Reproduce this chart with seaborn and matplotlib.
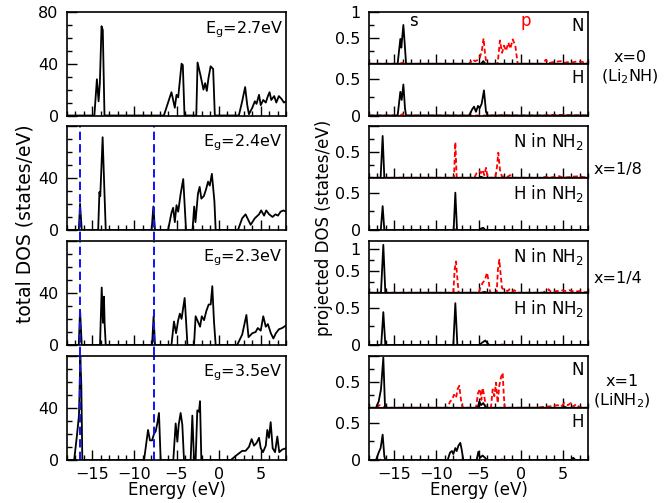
import matplotlib
matplotlib.use('Agg')
import matplotlib.pyplot as plt
from matplotlib.ticker import MultipleLocator
import seaborn as sns

# ---- total DOS (left column), energies in eV, DOS in states/eV ----
tot0_e = [-18.0, -14.75, -14.45, -14.25, -14.1, -13.9, -13.75, -13.55, -6.5, -5.6, -5.2, -5.0, -4.8, -4.4,
          -4.25, -4.05, -2.65, -2.5, -2.15, -1.8, -1.6, -1.4, -1.2, -0.95, -0.65, -0.45, 2.4, 2.8, 3.15, 3.4,
          3.6, 4.0, 4.3, 4.5, 4.8, 5.0, 5.3, 5.6, 5.85, 6.05, 6.25, 6.6, 6.85, 7.15, 7.45, 7.75, 8.0]
tot0_d = [0, 0, 28, 11, 25, 69, 66, 0, 0, 18, 6, 16, 14, 40,
          39, 0, 0, 41, 31, 20, 25, 19, 29, 38, 36, 0, 0, 11, 22, 8,
          1, 6, 11, 9, 16, 8, 12, 10, 15, 18, 12, 15, 10, 15, 13, 10, 11]

tot1_e = [-18.0, -16.6, -16.45, -16.25, -14.3, -14.15, -14.05, -13.77, -13.57, -13.4, -7.95, -7.75, -7.55,
          -6.0, -5.6, -5.4, -5.2, -5.0, -4.8, -4.5, -4.2, -3.87, -3.1, -2.9, -2.75, -2.45, -2.25, -2.05,
          -1.75, -1.5, -1.25, -1.05, -0.8, -0.5, -0.35, 2.3, 2.8, 3.2, 3.5, 3.8, 4.3, 4.8, 5.05, 5.4, 5.65,
          6.0, 6.4, 6.75, 7.05, 7.35, 7.7, 8.0]
tot1_d = [0, 0, 20, 0, 0, 29, 26, 71, 32, 0, 0, 18, 0,
          0, 13, 17, 6, 19, 14, 28, 39, 0, 0, 18, 6, 28, 33, 24,
          26, 31, 37, 34, 43, 22, 0, 0, 9, 12, 8, 4, 9, 12, 15, 11, 15,
          12, 10, 12, 11, 14, 15, 14]

tot2_e = [-18.0, -16.6, -16.45, -16.25, -14.08, -13.88, -13.73, -13.61, -13.53, -13.4, -7.9, -7.72, -7.55,
          -5.6, -5.3, -5.05, -4.8, -4.6, -4.4, -4.03, -3.87, -3.7, -2.92, -2.73, -2.53, -2.2, -2.0, -1.73,
          -1.46, -1.18, -0.94, -0.75, -0.55, -0.35, 2.2, 2.8, 3.3, 3.55, 4.0, 4.4, 4.65, 5.0, 5.3, 5.6,
          5.85, 6.2, 6.5, 6.8, 7.15, 7.55, 8.0]
tot2_d = [0, 0, 27, 0, 0, 44, 17, 37, 16, 0, 0, 22, 0,
          0, 18, 9, 19, 24, 20, 36, 19, 0, 0, 22, 19, 14, 22, 19,
          26, 31, 31, 45, 18, 0, 0, 8, 23, 6, 9, 10, 13, 11, 22, 14,
          16, 9, 5, 9, 12, 13, 15]

tot3_e = [-18.0, -17.15, -16.85, -16.58, -16.42, -16.3, -16.18, -8.85, -8.38, -8.15, -7.9, -7.67, -7.47,
          -7.28, -7.08, -6.88, -5.38, -5.1, -4.9, -4.74, -4.51, -4.31, -4.11, -3.32, -3.12, -2.92, -2.73,
          -2.53, -2.33, -2.21, -2.05, 1.45, 2.0, 2.4, 2.8, 3.2, 3.6, 3.92, 4.2, 4.5, 4.8, 5.0, 5.27, 5.6,
          5.78, 5.98, 6.18, 6.42, 6.7, 6.97, 7.2, 7.55, 8.0]
tot3_d = [0, 0, 17, 34, 79, 57, 0, 0, 23, 15, 15, 20, 22,
          28, 36, 0, 0, 28, 14, 27, 36, 27, 0, 0, 34, 0, 0,
          38, 37, 45, 0, 0, 3, 5, 7, 7, 10, 16, 11, 13, 17, 9, 6, 11,
          23, 17, 29, 9, 6, 18, 6, 8, 9]

gaps = ['2.7', '2.4', '2.3', '3.5']
vline_e = [-16.42, -7.72]

# ---- projected DOS (right column): N and H, s (black) and p (red) ----
p0N_s_e = [-18.0, -14.6, -14.28, -14.16, -13.92, -13.77, -13.6, -4.7, -4.43, -4.19, 8.0]
p0N_s_d = [0, 0, 0.48, 0.31, 0.75, 0.41, 0, 0, 0.05, 0, 0]
p0N_p_e = [-18.0, -14.4, -14.0, -13.7, -6.1, -5.7, -5.4, -4.9, -4.6, -4.4, -4.2, -4.03, -2.73, -2.45, -2.2,
           -1.97, -1.73, -1.46, -1.22, -0.94, -0.63, -0.35, 2.6, 3.0, 3.3, 3.8, 4.8, 5.2, 5.6, 6.0, 6.8,
           7.5, 8.0]
p0N_p_d = [0, 0, 0.02, 0, 0, 0.08, 0.05, 0.09, 0.25, 0.49, 0.15, 0, 0, 0.45, 0.21,
           0.35, 0.25, 0.41, 0.29, 0.47, 0.35, 0, 0, 0.08, 0.01, 0.03, 0.05, 0.02, 0.03, 0.02, 0.05,
           0.03, 0.03]
p0H_s_e = [-18.0, -14.6, -14.28, -14.12, -13.92, -13.73, -13.6, -6.1, -5.77, -5.53, -5.3, -5.06, -4.86,
           -4.62, -4.35, -4.11, -3.9, 8.0]
p0H_s_d = [0, 0, 0.32, 0.21, 0.42, 0.1, 0, 0, 0.08, 0.12, 0.05, 0.13, 0.1,
           0.16, 0.34, 0.05, 0, 0]
p0H_p_e = [-18.0, -14.3, -14.0, -13.7, -2.5, -2.0, -1.5, 3.0, 3.4, 8.0]
p0H_p_d = [0, 0, 0.02, 0, 0, 0.01, 0, 0, 0.01, 0]

p1N_s_e = [-18.0, -16.62, -16.38, -16.18, -4.9, -4.7, -4.4, 8.0]
p1N_s_d = [0, 0, 0.8, 0, 0, 0.02, 0, 0]
p1N_p_e = [-18.0, -16.6, -16.4, -16.2, -7.91, -7.75, -7.59, -5.5, -5.22, -4.9, -4.7, -4.51, -4.31, -4.11,
           -3.91, -3.0, -2.8, -2.65, -2.45, -2.21, -1.9, -1.5, -1.26, -0.94, 2.6, 3.0, 3.4, 4.6, 5.0,
           6.2, 6.97, 7.5, 8.0]
p1N_p_d = [0, 0, 0.03, 0, 0, 0.68, 0, 0, 0.09, 0.13, 0.09, 0.15, 0.05, 0.19,
           0, 0, 0.22, 0.48, 0.15, 0.02, 0.03, 0.02, 0.05, 0, 0, 0.02, 0, 0.03, 0,
           0.02, 0.03, 0.01, 0.02]
p1H_s_e = [-18.0, -16.6, -16.38, -16.18, -7.95, -7.75, -7.55, -4.9, -4.7, -4.43, -4.2, 8.0]
p1H_s_d = [0, 0, 0.32, 0, 0, 0.5, 0, 0, 0.02, 0.03, 0, 0]
p1H_p_e = [-18.0, -16.6, -16.38, -16.18, -7.95, -7.75, -7.55, 8.0]
p1H_p_d = [0, 0, 0.01, 0, 0, 0.01, 0, 0]

p2N_s_e = [-18.0, -16.58, -16.3, -16.06, -4.7, -4.3, -3.9, 8.0]
p2N_s_d = [0, 0, 1.1, 0, 0, 0.02, 0, 0]
p2N_p_e = [-18.0, -7.99, -7.83, -7.67, -7.55, -7.36, -4.98, -4.78, -4.51, -4.27, -3.99, -3.79, -3.6,
           -2.84, -2.69, -2.53, -2.37, -2.21, -1.93, -1.54, -1.34, -1.0, -0.75, -0.45, 2.6, 3.0, 3.33,
           3.6, 4.4, 4.8, 5.4, 5.8, 6.4, 7.0, 7.6, 8.0]
p2N_p_d = [0, 0, 0.54, 0.72, 0.42, 0, 0, 0.11, 0.23, 0.28, 0.46, 0.26, 0,
           0, 0.54, 0.76, 0.42, 0.11, 0.06, 0.04, 0.08, 0.02, 0.06, 0, 0, 0.04, 0.08,
           0.02, 0.04, 0.06, 0.04, 0.06, 0.02, 0.04, 0.01, 0.02]
p2H_s_e = [-18.0, -16.55, -16.3, -16.06, -7.99, -7.75, -7.51, -4.9, -4.59, -4.19, -3.91, -3.71, 8.0]
p2H_s_d = [0, 0, 0.44, 0, 0, 0.56, 0, 0, 0.03, 0.06, 0.02, 0, 0]
p2H_p_e = [-18.0, -16.5, -16.3, -16.1, -2.5, -2.0, -1.6, 8.0]
p2H_p_d = [0, 0, 0.01, 0, 0, 0.01, 0, 0]

p3N_s_e = [-18.0, -17.17, -16.85, -16.58, -16.3, -16.1, -15.98, -5.1, -4.9, -4.7, -4.43, -4.19, -4.03,
           4.8, 5.2, 5.5, 8.0]
p3N_s_d = [0, 0, 0.12, 0.35, 0.96, 0.02, 0, 0, 0.12, 0.05, 0.09, 0.02, 0,
           0, 0.02, 0, 0]
p3N_p_e = [-18.0, -17.1, -16.77, -16.4, -16.1, -8.66, -8.38, -8.15, -7.91, -7.67, -7.47, -7.28, -7.08,
           -6.88, -5.3, -5.06, -4.82, -4.66, -4.51, -4.31, -4.11, -3.52, -3.32, -3.12, -2.92, -2.73, -2.53,
           -2.33, -2.13, -2.01, -1.89, 2.0, 2.8, 3.8, 4.4, 4.8, 5.19, 5.6, 5.98, 6.26, 6.58, 6.97, 7.7, 8.0]
p3N_p_d = [0, 0, 0.05, 0.02, 0, 0, 0.12, 0.15, 0.25, 0.19, 0.36, 0.42, 0.15,
           0, 0, 0.28, 0.36, 0.15, 0.38, 0.22, 0, 0, 0.35, 0.22, 0.48, 0.09, 0.42,
           0.58, 0.67, 0.28, 0, 0, 0.02, 0.03, 0.05, 0.02, 0.09, 0.05, 0.09, 0.02, 0.07, 0.01, 0, 0]
p3H_s_e = [-18.0, -17.17, -16.85, -16.62, -16.38, -16.18, -16.06, -8.66, -8.38, -8.15, -7.99, -7.75, -7.59,
           -7.39, -7.16, -7.0, -6.8, -5.22, -5.02, -4.82, -4.51, -4.23, -3.99, 6.0, 6.26, 6.5, 8.0]
p3H_s_d = [0, 0, 0.1, 0.16, 0.34, 0.05, 0, 0, 0.1, 0.12, 0.08, 0.16, 0.12,
           0.19, 0.23, 0.14, 0, 0, 0.11, 0.03, 0.06, 0.03, 0, 0, 0.03, 0, 0]
p3H_p_e = [-18.0, -16.7, -16.4, -16.1, -2.5, -2.1, -1.7, 8.0]
p3H_p_d = [0, 0, 0.02, 0, 0, 0.01, 0, 0]

n_labels = ['N', r'N in NH$_2$', r'N in NH$_2$', 'N']
h_labels = ['H', r'H in NH$_2$', r'H in NH$_2$', 'H']
n_ymax = [1.0, 1.0, 1.2, 1.0]

sns.set_style('ticks')
plt.rcParams['font.family'] = ['DejaVu Sans']
plt.rcParams['mathtext.fontset'] = 'dejavusans'
plt.rcParams['lines.scale_dashes'] = False
plt.rcParams['text.color'] = 'black'
plt.rcParams['axes.labelcolor'] = 'black'

W, H = 669, 503
fig = plt.figure(figsize=(W / 100, H / 100), dpi=100)


def add_ax(x0, x1, y0, y1):
    # axes placed in pixel coordinates of the reference
    return fig.add_axes([x0 / W, 1 - y1 / H, (x1 - x0) / W, (y1 - y0) / H])


def style_ax(ax, show_x):
    ax.set_xlim(-18, 8)
    ax.xaxis.set_major_locator(MultipleLocator(5))
    ax.xaxis.set_minor_locator(MultipleLocator(1))
    ax.tick_params(which='both', direction='in', top=False, right=False, width=1.0,
                   colors='black', labelsize=11.5)
    ax.tick_params(which='major', length=7)
    ax.tick_params(which='minor', length=3.3)
    ax.tick_params(axis='x', pad=5, labelbottom=show_x)
    ax.tick_params(axis='y', pad=6)
    for s in ax.spines.values():
        s.set_linewidth(1.2)
        s.set_color('black')
    ax.set_xlabel('')
    ax.set_ylabel('')


tops = [12, 125.5, 240.5, 355.5]
bots = [115.5, 230, 345, 460]

tot_e = [tot0_e, tot1_e, tot2_e, tot3_e]
tot_d = [tot0_d, tot1_d, tot2_d, tot3_d]

for i in range(4):
    ax = add_ax(67, 286, tops[i], bots[i])
    sns.lineplot(x=tot_e[i], y=tot_d[i], ax=ax, color='black', lw=1.3, estimator=None, sort=False)
    style_ax(ax, i == 3)
    ax.set_ylim(0, 80)
    ax.set_yticks([0, 40, 80], ['0', '40', '80' if i == 0 else ''])
    ax.yaxis.set_minor_locator(MultipleLocator(10))
    ax.text(0.985, 0.93, r'E$_{\rm g}$=' + gaps[i] + 'eV', transform=ax.transAxes,
            ha='right', va='top', fontsize=11.5)
    if i > 0:
        for e in vline_e:
            ax.axvline(e, ymin=-0.1 if i < 3 else 0, ymax=1, color='#1010ff', lw=1.4,
                       ls=(0, (6, 3)), clip_on=False)

proj = [
    (p0N_s_e, p0N_s_d, p0N_p_e, p0N_p_d, p0H_s_e, p0H_s_d, p0H_p_e, p0H_p_d),
    (p1N_s_e, p1N_s_d, p1N_p_e, p1N_p_d, p1H_s_e, p1H_s_d, p1H_p_e, p1H_p_d),
    (p2N_s_e, p2N_s_d, p2N_p_e, p2N_p_d, p2H_s_e, p2H_s_d, p2H_p_e, p2H_p_d),
    (p3N_s_e, p3N_s_d, p3N_p_e, p3N_p_d, p3H_s_e, p3H_s_d, p3H_p_e, p3H_p_d),
]

for i in range(4):
    ns_e, ns_d, np_e, np_d, hs_e, hs_d, hp_e, hp_d = proj[i]
    mid = (tops[i] + bots[i]) / 2
    axN = add_ax(369, 588, tops[i], mid)
    axH = add_ax(369, 588, mid, bots[i])

    sns.lineplot(x=np_e, y=np_d, ax=axN, color='red', lw=1.3, ls=(0, (3.5, 2)), estimator=None, sort=False)
    sns.lineplot(x=ns_e, y=ns_d, ax=axN, color='black', lw=1.3, estimator=None, sort=False)
    sns.lineplot(x=hp_e, y=hp_d, ax=axH, color='red', lw=1.3, ls=(0, (3.5, 2)), estimator=None, sort=False)
    sns.lineplot(x=hs_e, y=hs_d, ax=axH, color='black', lw=1.3, estimator=None, sort=False)

    style_ax(axN, False)
    style_ax(axH, i == 3)
    axN.set_ylim(0, n_ymax[i])
    axN.set_yticks([0, 0.5, 1], ['', '0.5', '1' if i in (0, 2) else ''])
    axN.yaxis.set_minor_locator(MultipleLocator(0.25))
    axH.set_ylim(0, 0.7)
    axH.set_yticks([0, 0.5], ['0', '0.5'])
    axH.yaxis.set_minor_locator(MultipleLocator(0.25))

    axN.text(0.98, 0.9, n_labels[i], transform=axN.transAxes, ha='right', va='top', fontsize=12)
    axH.text(0.98, 0.9, h_labels[i], transform=axH.transAxes, ha='right', va='top', fontsize=12)
    if i == 0:
        axN.text(0.205, 0.73, 's', transform=axN.transAxes, ha='center', va='baseline', fontsize=12)
        axN.text(0.717, 0.73, 'p', transform=axN.transAxes, ha='center', va='baseline', fontsize=12,
                 color='red')

# composition labels on the right
fig.text(630 / W, 1 - 62 / H, 'x=0', ha='center', va='baseline', fontsize=11.5)
fig.text(630 / W, 1 - 81 / H, r'(Li$_2$NH)', ha='center', va='baseline', fontsize=11.5)
fig.text(618 / W, 1 - 174 / H, 'x=1/8', ha='center', va='baseline', fontsize=11.5)
fig.text(618 / W, 1 - 283 / H, 'x=1/4', ha='center', va='baseline', fontsize=11.5)
fig.text(622 / W, 1 - 386 / H, 'x=1', ha='center', va='baseline', fontsize=11.5)
fig.text(622 / W, 1 - 405 / H, r'(LiNH$_2$)', ha='center', va='baseline', fontsize=11.5)

fig.text(25 / W, 1 - 224 / H, 'total DOS (states/eV)', rotation=90, ha='center', va='center', fontsize=13.5)
fig.text(324 / W, 1 - 228 / H, 'projected DOS (states/eV)', rotation=90, ha='center', va='center', fontsize=12)
fig.text(176.5 / W, 1 - 490 / H, 'Energy (eV)', ha='center', va='center', fontsize=12)
fig.text(478.5 / W, 1 - 490 / H, 'Energy (eV)', ha='center', va='center', fontsize=12)

fig.savefig('out.png', dpi=100)
